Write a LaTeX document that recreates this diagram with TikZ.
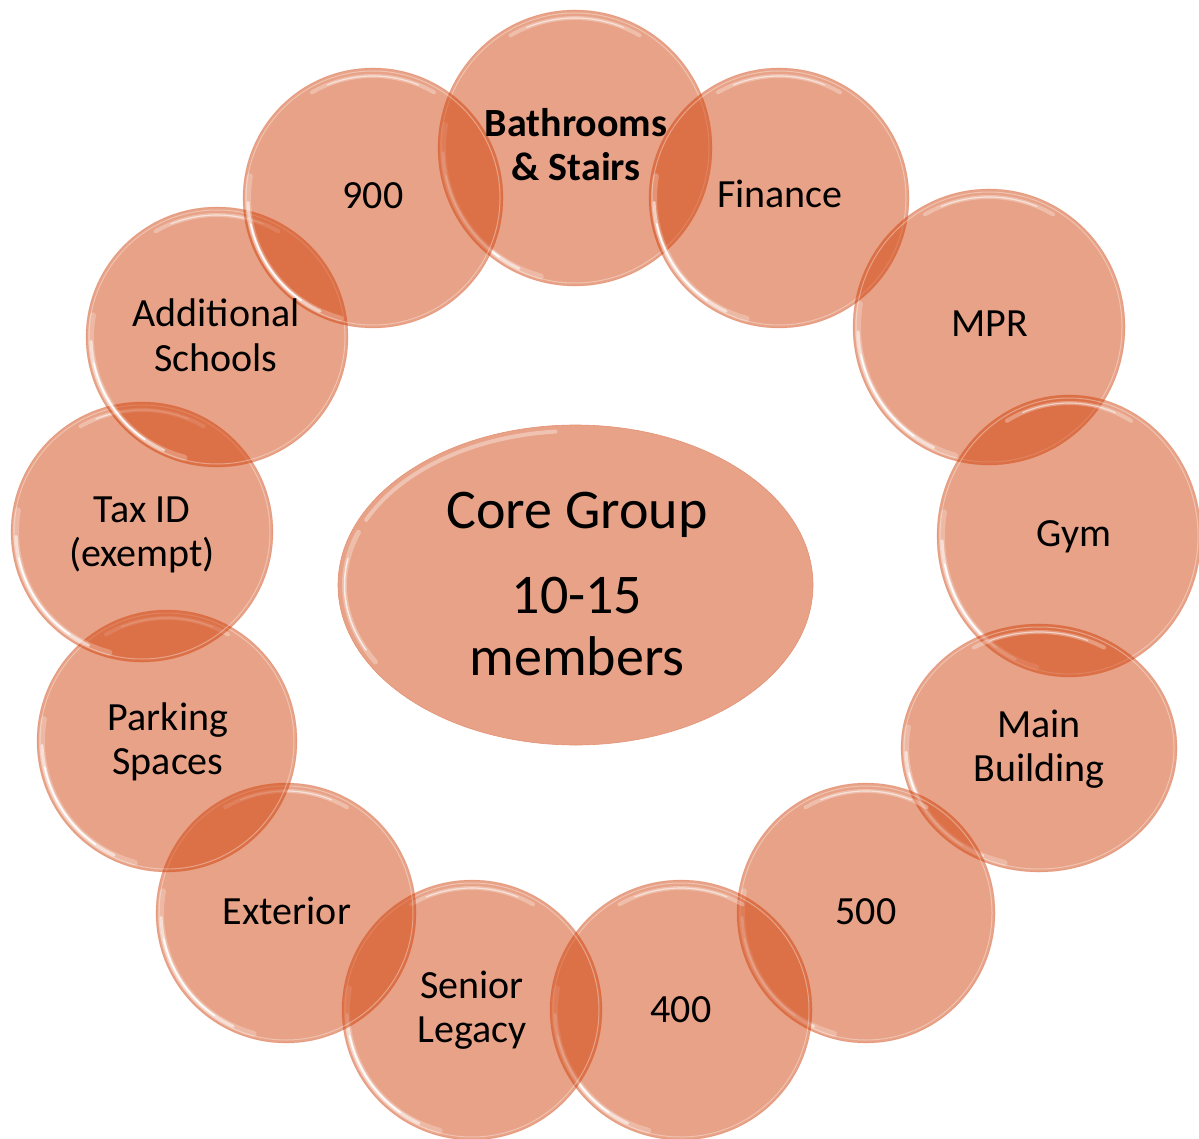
\documentclass[tikz,border=0pt]{standalone}
\usepackage{fontspec}
\setmainfont{Carlito}
\usetikzlibrary{shapes.geometric}
\definecolor{bubblebase}{RGB}{207,58,2}
\definecolor{corefill}{RGB}{232,162,136}
\newcommand\lbl[1]{\begin{tabular}[t]{@{}c@{}}#1\end{tabular}}
\tikzset{
  bubble/.style={ellipse, inner sep=0pt, fill=bubblebase, fill opacity=0.47,
    draw=bubblebase, draw opacity=0.2, line width=0.6pt},
  bubbletext/.style={anchor=base, inner sep=0pt, text=black,
    font=\fontsize{40}{44}\selectfont},
  rimring/.style={draw=white, line width=1pt, opacity=0.35},
  glowwide/.style={draw=white, line width=6pt, opacity=0.25, line cap=round},
  glowmid/.style={draw=white, line width=3pt, opacity=0.55, line cap=round},
  glowthin/.style={draw=white, line width=1.6pt, opacity=0.95, line cap=round},
  topglow/.style={draw=white, line width=4pt, opacity=0.3, line cap=round},
  topthin/.style={draw=white, line width=1.2pt, opacity=0.55, line cap=round},
}
% name, cx, cy, rx, ry
\newcommand\drawbubble[5]{%
  \node[bubble, minimum width={2*#4}, minimum height={2*#5}] (#1) at (#2,#3) {};
  \draw[rimring] (#2,#3) ellipse[x radius={#4-3}, y radius={#5-3}];
  \draw[glowwide] (#2,#3) ++(105:{#4-5} and {#5-5}) arc[start angle=105, end angle=190, x radius={#4-5}, y radius={#5-5}];
  \draw[glowmid] (#2,#3) ++(115:{#4-5} and {#5-5}) arc[start angle=115, end angle=178, x radius={#4-5}, y radius={#5-5}];
  \draw[glowthin] (#2,#3) ++(125:{#4-5} and {#5-5}) arc[start angle=125, end angle=168, x radius={#4-5}, y radius={#5-5}];
  \draw[topglow] (#2,#3) ++(240:{#4-8} and {#5-8}) arc[start angle=240, end angle=300, x radius={#4-8}, y radius={#5-8}];
  \draw[topthin] (#2,#3) ++(248:{#4-8} and {#5-8}) arc[start angle=248, end angle=292, x radius={#4-8}, y radius={#5-8}];
}
\begin{document}
\begin{tikzpicture}[x=1pt, y=-1pt]
\useasboundingbox (0,0) rectangle (1199,1139);
\fill[white] (0,0) rectangle (1199,1139);

% central ellipse
\node[ellipse, inner sep=0pt, minimum width=475, minimum height=320,
  fill=corefill, draw=corefill!85!bubblebase, line width=0.6pt] (core) at (575.5,585) {};
\draw[draw=white, line width=5pt, opacity=0.3, line cap=round] (575.5,585) ++(150:231 and 154) arc[start angle=150, end angle=200, x radius=231, y radius=154];
\draw[draw=white, line width=1.5pt, opacity=0.7, line cap=round] (575.5,585) ++(155:231 and 154) arc[start angle=155, end angle=190, x radius=231, y radius=154];
\draw[draw=white, line width=4pt, opacity=0.35, line cap=round] (575.5,585) ++(205:231 and 154) arc[start angle=205, end angle=265, x radius=231, y radius=154];
\node[anchor=base, inner sep=0pt, text=black, font=\fontsize{56}{62}\selectfont]
  (coretext) at (577,528) {\lbl{Core Group\\[23pt]10-15\\members}};

% ring of bubbles
\drawbubble{bath}{575}{148}{137}{138}
\drawbubble{fin}{779}{198}{130}{130}
\drawbubble{mpr}{989}{327}{136}{138}
\drawbubble{gym}{1069}{536}{132}{141}
\drawbubble{main}{1039}{748}{138}{124}
\drawbubble{fivehundred}{866}{913}{129}{130}
\drawbubble{fourhundred}{681}{1010}{131}{130}
\drawbubble{senior}{472}{1010}{130}{130}
\drawbubble{ext}{286}{913}{130}{130}
\drawbubble{park}{167}{741}{130}{131}
\drawbubble{tax}{142}{532}{131}{130}
\drawbubble{addl}{217}{337}{131}{130}
\drawbubble{ninehundred}{373}{198}{130}{130}

% labels
\node[bubbletext, font=\fontsize{40}{44}\selectfont\bfseries] (bathtext) at (576,137) {\lbl{Bathrooms\\\& Stairs}};
\node[bubbletext] (fintext) at (780,208) {Finance};
\node[bubbletext] (mprtext) at (990,337) {MPR};
\node[bubbletext] (gymtext) at (1074,546) {Gym};
\node[bubbletext] (maintext) at (1039,737) {\lbl{Main\\Building}};
\node[bubbletext] (fivetext) at (866,924) {500};
\node[bubbletext] (fourtext) at (681,1022) {400};
\node[bubbletext] (seniortext) at (472,998) {\lbl{Senior\\Legacy}};
\node[bubbletext] (exttext) at (287,924) {Exterior};
\node[bubbletext] (parktext) at (168,730) {\lbl{Parking\\Spaces}};
\node[bubbletext] (taxtext) at (142,522) {\lbl{Tax ID\\(exempt)}};
\node[bubbletext] (addltext) at (216,327) {\lbl{Additional\\Schools}};
\node[bubbletext] (ninetext) at (373,209) {900};
\end{tikzpicture}
\end{document}
